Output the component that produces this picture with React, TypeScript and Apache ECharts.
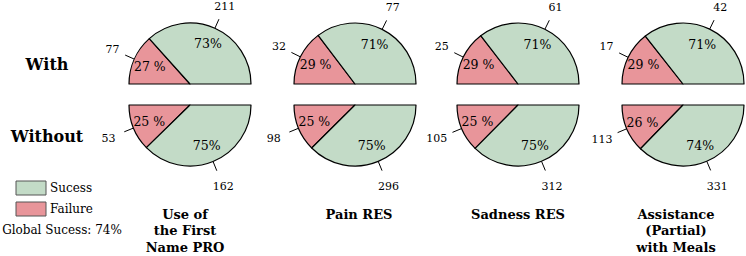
import React, { useEffect, useRef } from 'react';
import * as echarts from 'echarts';

// Counts per item, split by situation ("With" on top, "Without" below)
const categories = ['Use of\nthe First\nName PRO', 'Pain RES', 'Sadness RES', 'Assistance\n(Partial)\nwith Meals'];
const withFailure = [77, 32, 25, 17];
const withSuccess = [211, 77, 61, 42];
const withoutFailure = [53, 98, 105, 113];
const withoutSuccess = [162, 296, 312, 331];

// Percentage labels as printed in each slice
const withFailurePct = ['27 %', '29 %', '29 %', '29 %'];
const withSuccessPct = ['73%', '71%', '71%', '71%'];
const withoutFailurePct = ['25 %', '25 %', '25 %', '26 %'];
const withoutSuccessPct = ['75%', '75%', '75%', '74%'];

const rowLabels = ['With', 'Without'];
const legendNames = ['Sucess', 'Failure'];
const globalSuccessLabel = 'Global Sucess: 74%';

// Layout
const W = 746;
const H = 256;
const PIE_X = [190, 355, 518, 683];
const TITLE_X = [185, 359, 518, 676];
const TOP_Y = 84;
const BOTTOM_Y = 105;
const R = 61;
// radius band whose middle carries the count labels
const COUNT_RING_TOP = [77, 87];
const COUNT_RING_BOTTOM = [80, 90];

const GREEN = '#c3dbc7';
const RED = '#e8959a';
const FONT = '"DejaVu Serif", "Liberation Serif", serif';
const TRANSPARENT = 'rgba(0,0,0,0)';

function angleOpts(upper: boolean) {
  return upper
    ? { startAngle: 180, endAngle: 0, clockwise: true }
    : { startAngle: 180, endAngle: 360, clockwise: false };
}

function pieSeries(cx: number, cy: number, fail: number, succ: number, upper: boolean, pcts: string[]) {
  const angles = angleOpts(upper);
  const data = [
    { value: fail, name: legendNames[1] },
    { value: succ, name: legendNames[0] },
  ];
  // Half pie with black outlines and short radial leader stubs
  const main = {
    type: 'pie',
    center: [cx, cy],
    radius: [0, R],
    ...angles,
    silent: true,
    avoidLabelOverlap: false,
    emphasis: { disabled: true },
    data: [
      { ...data[0], itemStyle: { color: RED } },
      { ...data[1], itemStyle: { color: GREEN } },
    ],
    itemStyle: { borderColor: '#000', borderWidth: 1.2 },
    label: { show: true, position: 'outside', formatter: ' ', fontSize: 1 },
    labelLine: { show: true, length: 10, length2: 0, smooth: false, lineStyle: { color: '#000', width: 1 } },
  };
  // Invisible overlay carrying the percentage labels
  const pct = {
    type: 'pie',
    center: [cx, cy],
    radius: [0, 82],
    ...angles,
    silent: true,
    emphasis: { disabled: true },
    data,
    itemStyle: { color: TRANSPARENT, borderWidth: 0 },
    label: {
      show: true,
      position: 'inside',
      formatter: (p: any) => pcts[p.dataIndex],
      fontSize: 12.5,
      fontFamily: FONT,
      color: '#000',
    },
    labelLine: { show: false },
  };
  // Invisible ring carrying the count labels beyond the leader stubs
  const counts = {
    type: 'pie',
    center: [cx, cy],
    radius: upper ? COUNT_RING_TOP : COUNT_RING_BOTTOM,
    ...angles,
    silent: true,
    emphasis: { disabled: true },
    data,
    itemStyle: { color: TRANSPARENT, borderWidth: 0 },
    label: {
      show: true,
      position: 'inside',
      formatter: '{c}',
      fontSize: 11,
      fontFamily: FONT,
      color: '#000',
    },
    labelLine: { show: false },
  };
  return [main, pct, counts];
}

export default function App() {
  const ref = useRef<HTMLDivElement>(null);

  useEffect(() => {
    document.body.style.margin = '0';
    if (!ref.current) return;
    const chart = echarts.init(ref.current, null, { renderer: 'svg' });

    const series: any[] = [];
    PIE_X.forEach((cx, i) => {
      const pctTop = [withFailurePct[i], withSuccessPct[i]];
      const pctBottom = [withoutFailurePct[i], withoutSuccessPct[i]];
      series.push(...pieSeries(cx, TOP_Y, withFailure[i], withSuccess[i], true, pctTop));
      series.push(...pieSeries(cx, BOTTOM_Y, withoutFailure[i], withoutSuccess[i], false, pctBottom));
    });

    const graphic: any[] = [
      {
        type: 'text', x: 47, y: 64,
        style: { text: rowLabels[0], font: `bold 16px ${FONT}`, fill: '#000', align: 'center', verticalAlign: 'middle' },
      },
      {
        type: 'text', x: 47, y: 136,
        style: { text: rowLabels[1], font: `bold 16px ${FONT}`, fill: '#000', align: 'center', verticalAlign: 'middle' },
      },
      ...categories.map((c, i) => ({
        type: 'text', x: TITLE_X[i], y: 206,
        style: { text: c, font: `bold 13px ${FONT}`, fill: '#000', align: 'center', verticalAlign: 'top', lineHeight: 16.5 },
      })),
      {
        type: 'rect', shape: { x: 16, y: 181, width: 30, height: 14 },
        style: { fill: GREEN, stroke: '#555', lineWidth: 1 },
      },
      {
        type: 'text', x: 50, y: 188,
        style: { text: legendNames[0], font: `12px ${FONT}`, fill: '#000', align: 'left', verticalAlign: 'middle' },
      },
      {
        type: 'rect', shape: { x: 16, y: 202, width: 30, height: 14 },
        style: { fill: RED, stroke: '#555', lineWidth: 1 },
      },
      {
        type: 'text', x: 50, y: 209,
        style: { text: legendNames[1], font: `12px ${FONT}`, fill: '#000', align: 'left', verticalAlign: 'middle' },
      },
      {
        type: 'text', x: 62, y: 230,
        style: { text: globalSuccessLabel, font: `12px ${FONT}`, fill: '#000', align: 'center', verticalAlign: 'middle' },
      },
    ];

    chart.setOption({
      animation: false,
      backgroundColor: '#fff',
      series,
      graphic,
    });

    return () => chart.dispose();
  }, []);

  return <div ref={ref} style={{ width: W, height: H }} />;
}
